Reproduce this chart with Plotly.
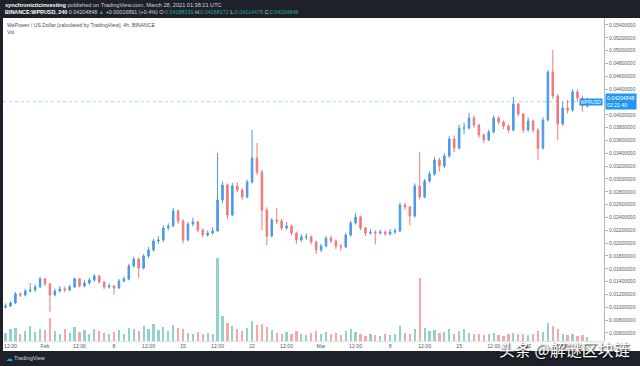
import plotly.graph_objects as go
import pandas as pd

# 12h candles, WPR/USD
times = pd.date_range("2021-01-28 00:00", periods=119, freq="12h")

opens = [
    0.01000, 0.01021, 0.01068, 0.01208, 0.01192, 0.01255, 0.01270, 0.01317, 0.01442, 0.01364,
    0.01192, 0.01255, 0.01286, 0.01270, 0.01317, 0.01442, 0.01333, 0.01379, 0.01426, 0.01488,
    0.01395, 0.01317, 0.01333, 0.01301, 0.01410, 0.01442, 0.01644, 0.01753, 0.01613, 0.01800,
    0.01894, 0.02034, 0.02049, 0.02236, 0.02268, 0.02502, 0.02345, 0.02049, 0.02299, 0.02330,
    0.02205, 0.02127, 0.02158, 0.02190, 0.02673, 0.02907, 0.02439, 0.02891, 0.02829, 0.02720,
    0.02953, 0.03327, 0.03109, 0.02517, 0.02112, 0.02361, 0.02345, 0.02236, 0.02268, 0.02158,
    0.02049, 0.02096, 0.02096, 0.02018, 0.01894, 0.01956, 0.02081, 0.02034, 0.01956, 0.01941,
    0.02127, 0.02314, 0.02408, 0.02236, 0.02158, 0.02174, 0.02158, 0.02174, 0.02143, 0.02174,
    0.02190, 0.02595, 0.02564, 0.02423, 0.02891, 0.02720, 0.02969, 0.03078, 0.03296, 0.03203,
    0.03359, 0.03623, 0.03483, 0.03795, 0.03795, 0.03951, 0.03842, 0.03686, 0.03608, 0.03733,
    0.03951, 0.03888, 0.03826, 0.03764, 0.04169, 0.04013, 0.03764, 0.03904, 0.03764, 0.03483,
    0.03919, 0.04668, 0.04294, 0.03857, 0.04106, 0.04075, 0.04356, 0.04262, 0.04137,
]
closes = [
    0.01021, 0.01068, 0.01208, 0.01192, 0.01255, 0.01270, 0.01317, 0.01442, 0.01364, 0.01192,
    0.01255, 0.01286, 0.01270, 0.01317, 0.01442, 0.01333, 0.01379, 0.01426, 0.01488, 0.01395,
    0.01317, 0.01333, 0.01301, 0.01410, 0.01442, 0.01644, 0.01753, 0.01613, 0.01800, 0.01894,
    0.02034, 0.02049, 0.02236, 0.02268, 0.02502, 0.02345, 0.02049, 0.02299, 0.02330, 0.02205,
    0.02127, 0.02158, 0.02190, 0.02673, 0.02907, 0.02439, 0.02891, 0.02829, 0.02720, 0.02953,
    0.03327, 0.03109, 0.02517, 0.02112, 0.02361, 0.02345, 0.02236, 0.02268, 0.02158, 0.02049,
    0.02096, 0.02096, 0.02018, 0.01894, 0.01956, 0.02081, 0.02034, 0.01956, 0.01941, 0.02127,
    0.02314, 0.02408, 0.02236, 0.02158, 0.02174, 0.02158, 0.02174, 0.02143, 0.02174, 0.02190,
    0.02595, 0.02564, 0.02423, 0.02891, 0.02720, 0.02969, 0.03078, 0.03296, 0.03203, 0.03359,
    0.03623, 0.03483, 0.03795, 0.03795, 0.03951, 0.03842, 0.03686, 0.03608, 0.03733, 0.03951,
    0.03888, 0.03826, 0.03764, 0.04169, 0.04013, 0.03764, 0.03904, 0.03764, 0.03483, 0.03919,
    0.04668, 0.04294, 0.03857, 0.04106, 0.04075, 0.04356, 0.04262, 0.04137, 0.04205,
]
highs = [
    0.01060, 0.01095, 0.01240, 0.01235, 0.01290, 0.01380, 0.01360, 0.01475, 0.01460, 0.01380,
    0.01290, 0.01330, 0.01320, 0.01350, 0.01470, 0.01455, 0.01420, 0.01460, 0.01520, 0.01500,
    0.01410, 0.01370, 0.01350, 0.01440, 0.01480, 0.01680, 0.01790, 0.01770, 0.01830, 0.01940,
    0.02070, 0.02110, 0.02280, 0.02310, 0.02550, 0.02520, 0.02370, 0.02330, 0.02400, 0.02350,
    0.02230, 0.02200, 0.02250, 0.03405, 0.02960, 0.02930, 0.02940, 0.02950, 0.02860, 0.02990,
    0.03764, 0.03561, 0.03140, 0.02560, 0.02390, 0.02550, 0.02380, 0.02330, 0.02290, 0.02180,
    0.02140, 0.02150, 0.02120, 0.02040, 0.01990, 0.02110, 0.02120, 0.02060, 0.01990, 0.02160,
    0.02350, 0.02470, 0.02430, 0.02250, 0.02220, 0.02200, 0.02210, 0.02200, 0.02220, 0.02230,
    0.02630, 0.02630, 0.02580, 0.02930, 0.03421, 0.03000, 0.03120, 0.03340, 0.03330, 0.03400,
    0.03670, 0.03680, 0.03850, 0.03880, 0.04030, 0.03990, 0.03860, 0.03710, 0.03770, 0.03990,
    0.03980, 0.03910, 0.03850, 0.04278, 0.04190, 0.04030, 0.03960, 0.03930, 0.03790, 0.03960,
    0.04700, 0.05010, 0.04320, 0.04200, 0.04230, 0.04400, 0.04400, 0.04300, 0.04268,
]
lows = [
    0.00985, 0.01005, 0.01050, 0.01160, 0.01170, 0.01230, 0.01240, 0.01300, 0.01330, 0.00930,
    0.01170, 0.01230, 0.01240, 0.01250, 0.01300, 0.01310, 0.01310, 0.01350, 0.01400, 0.01370,
    0.01280, 0.01290, 0.01200, 0.01290, 0.01390, 0.01420, 0.01620, 0.01460, 0.01590, 0.01770,
    0.01870, 0.01990, 0.02020, 0.02200, 0.02250, 0.02300, 0.01990, 0.02030, 0.02260, 0.02170,
    0.02090, 0.02100, 0.02130, 0.02170, 0.02620, 0.02380, 0.02420, 0.02790, 0.02680, 0.02700,
    0.02930, 0.03060, 0.02205, 0.01970, 0.02090, 0.02300, 0.02200, 0.02210, 0.02120, 0.01990,
    0.02020, 0.02050, 0.01980, 0.01830, 0.01860, 0.01940, 0.02000, 0.01910, 0.01880, 0.01920,
    0.02100, 0.02290, 0.02200, 0.02110, 0.02130, 0.01980, 0.02130, 0.02110, 0.02120, 0.02140,
    0.02170, 0.02520, 0.02280, 0.02400, 0.02680, 0.02700, 0.02940, 0.03050, 0.03120, 0.03170,
    0.03330, 0.03420, 0.03460, 0.03700, 0.03770, 0.03800, 0.03640, 0.03560, 0.03590, 0.03710,
    0.03850, 0.03780, 0.03720, 0.03740, 0.03970, 0.03720, 0.03740, 0.03720, 0.03296, 0.03460,
    0.03900, 0.04250, 0.03608, 0.03830, 0.04020, 0.04050, 0.04200, 0.04050, 0.04114,
]
volumes = [
    10, 14, 16, 9, 12, 18, 11, 15, 13, 28,
    12, 9, 14, 10, 17, 11, 13, 9, 15, 12,
    10, 8, 11, 13, 9, 16, 14, 12, 18, 15,
    20, 13, 17, 12, 19, 16, 14, 10, 9, 11,
    8, 10, 9, 100, 30, 22, 18, 14, 12, 16,
    24, 19, 20, 17, 13, 10, 9, 11, 8, 12,
    9, 7, 10, 12, 9, 11, 8, 10, 7, 12,
    14, 11, 9, 6, 8, 7, 6, 8, 7, 9,
    18, 10, 9, 14, 76, 16, 12, 13, 10, 11,
    15, 9, 12, 14, 10, 8, 9, 7, 8, 10,
    7, 6, 8, 10, 8, 9, 7, 8, 12, 11,
    22, 18, 14, 9, 7, 8, 6, 7, 5,
]

price_ticks = [0.006 + 0.002 * k for k in range(25)]
price_tick_text = ["%.8f" % v for v in price_ticks]
time_ticks = ["2021-01-28 12:00", "2021-02-01", "2021-02-04 12:00", "2021-02-08",
              "2021-02-11 12:00", "2021-02-15", "2021-02-18 12:00", "2021-02-22",
              "2021-02-25 12:00", "2021-03-01", "2021-03-04 12:00", "2021-03-08",
              "2021-03-11 12:00", "2021-03-15", "2021-03-18 12:00", "2021-03-22",
              "2021-03-25 12:00"]
time_tick_text = ["12:00", "Feb", "12:00", "8", "12:00", "15", "12:00", "22",
                  "12:00", "Mar", "12:00", "8", "12:00", "15", "12:00", "22", "12:00"]
last_price = 0.04204848

UP = "#4a9ae8"
DOWN = "#f07a7b"
vol_colors = ["rgba(38,166,154,0.5)" if c >= o else "rgba(239,83,80,0.5)"
              for o, c in zip(opens, closes)]

FONT = "Liberation Sans, Arial, sans-serif"

fig = go.Figure()
fig.add_trace(go.Bar(
    x=times, y=volumes, yaxis="y2", marker=dict(color=vol_colors, line_width=0),
    width=12 * 3600 * 1000 * 0.45, hoverinfo="skip",
))
fig.add_trace(go.Candlestick(
    x=times, open=opens, high=highs, low=lows, close=closes,
    increasing=dict(line=dict(color=UP, width=1), fillcolor=UP),
    decreasing=dict(line=dict(color=DOWN, width=1), fillcolor=DOWN),
    whiskerwidth=0,
))

def px_x(px):
    return (px - 3) / 601.0

def px_y(py):
    return (341 - py) / 323.0

shapes = [
    dict(type="rect", xref="paper", yref="paper", x0=px_x(3), x1=px_x(640), y0=px_y(351), y1=px_y(18),
         fillcolor="white", line_width=0, layer="below"),
    dict(type="line", xref="paper", yref="y", x0=0, x1=1, y0=last_price, y1=last_price,
         line=dict(color="rgba(33,150,243,0.4)", width=1, dash="dot")),
]

annotations = [
    dict(xref="paper", yref="paper", x=px_x(3), y=px_y(5), xanchor="left", yanchor="middle",
         showarrow=False, font=dict(family=FONT, size=5.6, color="#d1d4dc"),
         text="<b><span style='color:#ffffff'>synchronicticinvesting</span></b> published on TradingView.com, March 28, 2021 01:38:21 UTC"),
    dict(xref="paper", yref="paper", x=px_x(3), y=px_y(12), xanchor="left", yanchor="middle",
         showarrow=False, font=dict(family=FONT, size=5.4, color="#d1d4dc"),
         text="<b><span style='color:#ffffff'>BINANCE:WPRUSD, 240</span></b> 0.04204848 "
              "<span style='color:#26a69a'>▲</span> +0.00016891 (+0.4%) "
              "O:<span style='color:#26a69a'>0.04188339</span> H:<span style='color:#26a69a'>0.04268172</span> "
              "L:<span style='color:#26a69a'>0.04114479</span> C:<span style='color:#26a69a'>0.04204848</span>"),
    dict(xref="paper", yref="paper", x=px_x(5), y=px_y(25), xanchor="left", yanchor="middle",
         showarrow=False, font=dict(family=FONT, size=5.2, color="#4a4e5a"),
         text="WePower / US Dollar [calculated by TradingView], 4h, BINANCE"),
    dict(xref="paper", yref="paper", x=px_x(5), y=px_y(31.5), xanchor="left", yanchor="middle",
         showarrow=False, font=dict(family=FONT, size=5.2, color="#4a4e5a"), text="Vol"),
    dict(xref="paper", yref="y", x=px_x(603), y=last_price, xanchor="right", yanchor="middle",
         showarrow=False, font=dict(family=FONT, size=4.6, color="white"), text="WPRUSD",
         bgcolor="#2196f3", borderpad=0.5),
    dict(xref="paper", yref="y", x=px_x(604.5), y=last_price, xanchor="left", yanchor="middle",
         showarrow=False, font=dict(family=FONT, size=5.2, color="white"),
         text="0.04204848<br>02:21:40", bgcolor="#2196f3", borderpad=1, align="left"),
    dict(xref="paper", yref="paper", x=px_x(4), y=px_y(358), xanchor="left", yanchor="middle",
         showarrow=False, font=dict(family=FONT, size=6.5, color="#2196f3"), text="☁"),
    dict(xref="paper", yref="paper", x=px_x(12), y=px_y(358), xanchor="left", yanchor="middle",
         showarrow=False, font=dict(family=FONT, size=5.6, color="#d1d4dc"), text="TradingView"),
    dict(xref="paper", yref="paper", x=px_x(564), y=px_y(349), xanchor="center", yanchor="middle",
         showarrow=False,
         font=dict(family="Noto Sans CJK SC", size=16, color="white", shadow="1px 1px 2px #000"),
         text="头条 @解谜区块链"),
]

fig.update_layout(
    width=640, height=366,
    margin=dict(l=3, r=36, t=18, b=25),
    paper_bgcolor="#1e2129", plot_bgcolor="white",
    showlegend=False, bargap=0, boxgap=0.55,
    shapes=shapes, annotations=annotations,
    xaxis=dict(
        type="date", range=["2021-01-27 17:46", "2021-03-29 16:36"],
        rangeslider=dict(visible=False),
        tickvals=time_ticks, ticktext=time_tick_text,
        tickfont=dict(family=FONT, size=5.2, color="#555a66"),
        showgrid=False, zeroline=False, ticks="", showline=True, linecolor="#e0e3eb", linewidth=1,
    ),
    yaxis=dict(
        side="right", range=[0.00475, 0.05509],
        tickvals=price_ticks, ticktext=price_tick_text,
        tickfont=dict(family=FONT, size=5, color="#555a66"),
        showgrid=False, zeroline=False, ticks="outside", ticklen=3, tickcolor="#b2b5be",
        showline=True, linecolor="#b2b5be", linewidth=1,
    ),
    yaxis2=dict(overlaying="y", range=[0, 390], visible=False),
)

fig.write_html(
    "out.html",
    config={"displayModeBar": False},
    post_script="document.body.style.margin='0';document.body.style.background='#1e2129';",
)
